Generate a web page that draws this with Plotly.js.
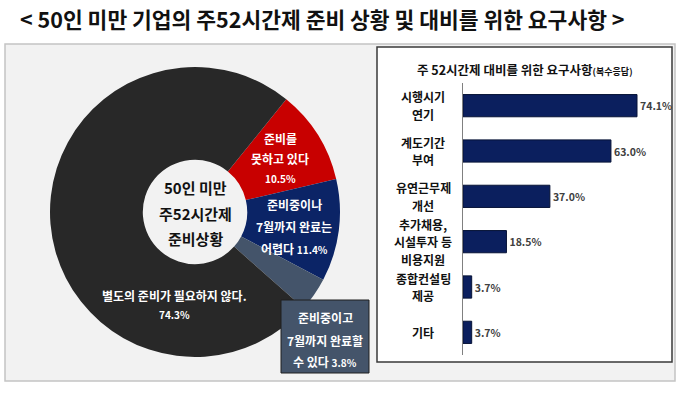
<!DOCTYPE html>
<html>
<head>
<meta charset="utf-8">
<script src="https://cdn.plot.ly/plotly-3.0.1.min.js"></script>
<style>
html,body{margin:0;padding:0;background:#fff;}
#chart{width:680px;height:394px;}
</style>
</head>
<body>
<div id="chart"></div>
<script>
// ---- data ----
const pieLabels = ['준비를 못하고 있다', '준비중이나 7월까지 완료는 어렵다', '준비중이고 7월까지 완료할 수 있다', '별도의 준비가 필요하지 않다.'];
const pieValues = [10.5, 11.4, 3.8, 74.3];
const pieColors = ['#c80000', '#0b2466', '#44546a', '#282828'];
const pieCenterLines = ['50인 미만', '주52시간제', '준비상황'];

const barCategories = ['시행시기<br>연기', '계도기간<br>부여', '유연근무제<br>개선', '추가채용,<br>시설투자 등<br>비용지원', '종합컨설팅<br>제공', '기타'];
const barValues = [74.1, 63.0, 37.0, 18.5, 3.7, 3.7];

const mainTitle = '< 50인 미만 기업의 주52시간제 준비 상황 및 대비를 위한 요구사항 >';
const barTitle = '주 52시간제 대비를 위한 요구사항';
const barTitleNote = '(복수응답)';

// ---- layout helpers ----
const W = 680, H = 394;
const px = x => x / W;
const py = y => 1 - y / H;
const FONT = '"Noto Sans CJK KR", "Noto Sans", sans-serif';
const pct = v => v.toFixed(1) + '%';
const small = (t, s) => '<span style="font-size:' + s + 'px">' + t + '</span>';

const annotations = [];
function addText(text, x, y, size, color, opts) {
  annotations.push(Object.assign({
    text: text, x: px(x), y: py(y), xref: 'paper', yref: 'paper',
    xanchor: 'center', yanchor: 'middle', showarrow: false,
    font: {family: FONT, size: size, color: color, weight: 'bold'}
  }, opts || {}));
}

// main title
addText(mainTitle, 18, 19, 21.5, '#111', {xanchor: 'left'});

// pie centre text
[187, 213, 238].forEach((y, i) => addText(pieCenterLines[i], 195, y, 15, '#111'));

// slice labels (line breaks of the label text; value appended)
const sliceLines = [
  [['준비를', '못하고 있다'], 280, [138, 158, 178], 'own'],
  [['준비중이나', '7월까지 완료는', '어렵다'], 294, [205, 226, 248], 'append'],
  [['준비중이고', '7월까지 완료할', '수 있다'], 325, [317, 340, 361], 'append'],
  [['별도의 준비가 필요하지 않다.'], 175, [295, 314], 'own']
];
sliceLines.forEach((s, k) => {
  const lines = s[0].slice();
  const v = small(pct(pieValues[k]), 10);
  if (s[3] === 'own') lines.push(v); else lines[lines.length - 1] += ' ' + v;
  lines.forEach((t, j) => addText(t, s[1], s[2][j], 12, '#fff'));
});

// bar chart title
addText('<b>' + barTitle + '</b>' + small(barTitleNote, 9), 525, 69, 12.5, '#111');

// bar category labels: one text per line, centred on the category
const LINE = 17.5;
barCategories.forEach(c => {
  const lines = c.split('<br>');
  const n = lines.length;
  lines.forEach((t, j) => {
    annotations.push({
      text: t, x: px(423), xref: 'paper', y: c, yref: 'y',
      yshift: ((n - 1) / 2 - j) * LINE, xanchor: 'center', yanchor: 'middle',
      showarrow: false, font: {family: FONT, size: 12, color: '#111', weight: 'bold'}
    });
  });
});

const shapes = [
  {type: 'rect', xref: 'paper', yref: 'paper', x0: px(5), x1: px(675), y0: py(381), y1: py(44),
   fillcolor: '#f2f2f2', line: {color: '#c4c4c4', width: 1.5}, layer: 'below'},
  {type: 'rect', xref: 'paper', yref: 'paper', x0: px(377), x1: px(672), y0: py(362), y1: py(47),
   fillcolor: '#ffffff', line: {color: '#3a3a3a', width: 1.5}, layer: 'below'},
  {type: 'rect', xref: 'paper', yref: 'paper', x0: px(281), x1: px(369), y0: py(373), y1: py(300),
   fillcolor: '#44546a', line: {color: '#1e1e1e', width: 1}, layer: 'above'}
];

const data = [
  {
    type: 'pie', values: pieValues, labels: pieLabels, sort: false,
    direction: 'clockwise', rotation: 39, hole: 0.36,
    marker: {colors: pieColors, line: {width: 0}},
    textinfo: 'none', hoverinfo: 'skip', showlegend: false,
    domain: {x: [px(50), px(340)], y: [py(357), py(67)]}
  },
  {
    type: 'bar', orientation: 'h', y: barCategories, x: barValues,
    width: 0.49,
    marker: {color: '#0b1f5e', line: {color: '#061236', width: 1}},
    texttemplate: '<b>%{x:.1f}%</b>', textposition: 'outside', cliponaxis: false,
    textfont: {family: FONT, size: 10.5, color: '#404040'},
    hoverinfo: 'skip', showlegend: false, xaxis: 'x', yaxis: 'y'
  }
];

const layout = {
  width: W, height: H, margin: {l: 0, r: 0, t: 0, b: 0},
  paper_bgcolor: '#ffffff', plot_bgcolor: 'rgba(0,0,0,0)',
  font: {family: FONT},
  showlegend: false,
  xaxis: {domain: [px(463), px(672)], range: [0, 89], visible: false, fixedrange: true},
  yaxis: {domain: [py(355), py(83)], type: 'category', range: [5.5, -0.5],
          showticklabels: false, ticks: '', showgrid: false, zeroline: false,
          showline: true, linecolor: '#808080', linewidth: 1, fixedrange: true},
  shapes: shapes,
  annotations: annotations
};

Plotly.newPlot('chart', data, layout, {staticPlot: true, displayModeBar: false});
</script>
</body>
</html>
